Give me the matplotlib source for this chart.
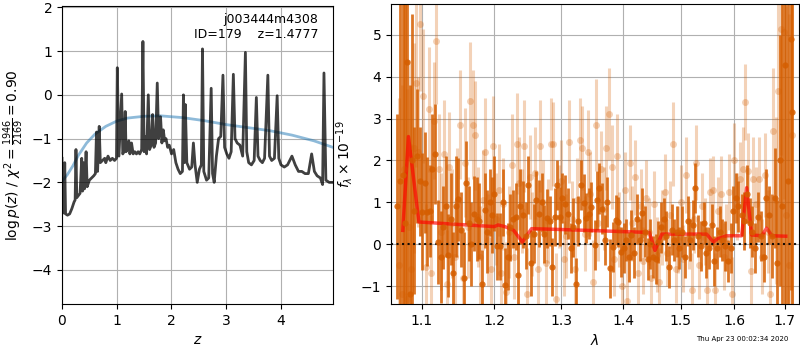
import matplotlib
matplotlib.use("Agg")
import matplotlib.pyplot as plt
from matplotlib.ticker import FixedLocator, FormatStrFormatter, NullLocator

# --- p(z) panel -------------------------------------------------------------
z_grid = [0.000, 0.010, 0.020, 0.035, 0.050, 0.065, 0.100, 0.140, 0.180, 0.220,
          0.240, 0.255, 0.270, 0.300, 0.330, 0.360, 0.375, 0.390, 0.410, 0.440,
          0.460, 0.500, 0.540, 0.580, 0.610, 0.630, 0.650, 0.680, 0.700, 0.740,
          0.780, 0.800, 0.840, 0.880, 0.920, 0.960, 0.995, 1.010, 1.040, 1.090,
          1.110, 1.130, 1.155, 1.170, 1.190, 1.220, 1.240, 1.270, 1.300, 1.330,
          1.360, 1.390, 1.420, 1.455, 1.478, 1.500, 1.520, 1.545, 1.576, 1.600,
          1.630, 1.655, 1.680, 1.710, 1.740, 1.765, 1.800, 1.825, 1.850, 1.875,
          1.900, 1.930, 1.960, 2.000, 2.040, 2.080, 2.120, 2.160, 2.200, 2.218,
          2.235, 2.252, 2.280, 2.330, 2.370, 2.400, 2.430, 2.470, 2.510, 2.545,
          2.566, 2.590, 2.640, 2.680, 2.725, 2.750, 2.780, 2.820, 2.860, 2.900,
          2.940, 2.970, 3.010, 3.050, 3.090, 3.130, 3.160, 3.200, 3.250, 3.300,
          3.350, 3.375, 3.410, 3.460, 3.510, 3.550, 3.580, 3.620, 3.660, 3.700,
          3.760, 3.790, 3.830, 3.880, 3.930, 3.960, 4.000, 4.060, 4.120, 4.200,
          4.260, 4.320, 4.380, 4.440, 4.500, 4.560, 4.610, 4.660, 4.720, 4.760,
          4.785, 4.820, 4.880, 4.950]
logpz = [-1.45, -2.70, -1.60, -2.70, -1.55, -2.72, -2.75, -2.72, -2.60, -2.45,
         -2.40, -1.25, -2.35, -2.30, -2.25, -1.45, -2.20, -1.55, -2.15, -1.30,
         -2.10, -1.95, -1.90, -1.85, -1.80, -0.85, -1.75, -0.72, -1.55, -1.50,
         -1.45, -1.55, -1.40, -1.50, -1.45, -1.50, -1.45, 0.62, -1.40, 0.02,
         -1.35, -1.30, -0.38, -1.30, -1.25, -1.05, -1.35, -1.10, -1.35, -1.30,
         -1.35, -1.30, -1.35, -1.25, 1.22, -1.30, -0.95, -1.35, 0.00, -1.25,
         -1.15, -0.45, -1.20, -1.10, 0.27, -1.00, -0.50, -1.10, -0.80, -1.05,
         -1.00, -1.20, -1.15, -1.35, -1.25, -1.55, -1.70, -1.80, -1.75, 0.00,
         -1.55, -0.22, -1.55, -1.70, -1.65, -1.10, -1.60, -2.00, -1.70, -1.60,
         1.05, -1.75, -1.95, -1.90, 0.15, -1.80, -2.00, -1.40, -1.00, -0.95,
         0.45, -1.20, -1.35, -1.45, -1.30, 0.47, -1.00, -1.10, -1.15, -1.40,
         0.97, -1.30, -1.55, -1.60, -1.50, -0.06, -1.40, -1.50, -1.55, -1.45,
         0.45, -1.40, -1.50, -1.45, -0.02, -1.45, -1.60, -1.65, -1.60, -1.40,
         -1.60, -1.75, -1.75, -1.80, -1.80, -1.35, -1.75, -1.85, -1.90, -2.05,
         0.50, -1.95, -2.00, -2.00]

z_prior = [0.0, 0.1, 0.2, 0.3, 0.45, 0.6, 0.8, 1.0, 1.2, 1.5,
           1.8, 2.2, 2.6, 3.0, 3.4, 3.8, 4.2, 4.6, 4.95]
logp_prior = [-1.98, -1.82, -1.62, -1.38, -1.10, -0.90, -0.72, -0.60, -0.53, -0.49,
              -0.48, -0.52, -0.59, -0.68, -0.75, -0.82, -0.92, -1.05, -1.20]

# --- 1D spectrum panel ------------------------------------------------------
dark_wave = [1.068, 1.072, 1.075, 1.078, 1.081, 1.084, 1.087, 1.090, 1.093, 1.097,
             1.100, 1.104, 1.107, 1.111, 1.114, 1.118, 1.121, 1.125, 1.128, 1.132,
             1.135, 1.139, 1.142, 1.146, 1.149, 1.153, 1.157, 1.160, 1.164, 1.167,
             1.171, 1.175, 1.178, 1.182, 1.186, 1.189, 1.193, 1.197, 1.200, 1.204,
             1.208, 1.212, 1.215, 1.219, 1.223, 1.227, 1.231, 1.235, 1.238, 1.242,
             1.246, 1.250, 1.254, 1.258, 1.262, 1.266, 1.270, 1.274, 1.278, 1.282,
             1.286, 1.290, 1.294, 1.298, 1.302, 1.306, 1.311, 1.315, 1.319, 1.323,
             1.327, 1.331, 1.336, 1.340, 1.344, 1.348, 1.353, 1.357, 1.361, 1.366,
             1.370, 1.374, 1.379, 1.383, 1.388, 1.392, 1.396, 1.401, 1.405, 1.410,
             1.414, 1.419, 1.423, 1.428, 1.432, 1.437, 1.442, 1.446, 1.451, 1.456,
             1.460, 1.465, 1.470, 1.474, 1.479, 1.484, 1.489, 1.493, 1.498, 1.503,
             1.508, 1.513, 1.518, 1.522, 1.527, 1.532, 1.537, 1.542, 1.547, 1.552,
             1.557, 1.562, 1.567, 1.572, 1.577, 1.583, 1.588, 1.593, 1.598, 1.603,
             1.608, 1.614, 1.619, 1.624, 1.630, 1.635, 1.640, 1.646, 1.651, 1.657,
             1.662, 1.668, 1.673, 1.679, 1.684, 1.690, 1.695, 1.701, 1.706, 1.712,
             1.715]
dark_flux = [0.90, 1.50, 1.65, 0.50, 4.35, -1.20, 2.00, 0.80, 2.10, 1.50,
             0.78, 1.47, 0.78, 0.80, 1.80, 2.15, 0.05, -0.30, 0.40, 0.90,
             -0.27, 0.60, -0.70, 0.90, 1.07, 0.35, -0.82, 1.47, 0.50, 0.00,
             0.73, 0.60, 0.55, -0.94, 0.81, 0.30, 1.00, 0.70, 1.21, -0.05,
             -0.05, 1.00, -0.98, -0.30, 0.40, 0.60, 0.65, -0.74, 0.90, 0.70,
             0.20, 1.41, -0.45, 0.25, 1.05, 0.73, 1.00, 0.24, 0.62, 0.55,
             -0.55, 0.65, 1.41, 0.66, 1.10, 0.95, 0.73, -0.10, 0.40, -0.94,
             0.55, 1.41, 0.98, 0.62, 0.73, 0.89, -0.02, 1.05, 1.33, 0.85,
             0.10, 1.00, -0.58, -0.06, 0.57, 0.53, -0.18, -0.10, 0.10, -0.30,
             0.22, -0.20, 0.60, 0.10, 0.75, 0.30, -0.35, 0.00, -0.30, -0.35,
             0.05, 0.40, 0.60, 0.20, -0.55, 0.35, 0.10, 0.30, -0.10, 0.30,
             -0.30, 0.55, 0.10, 0.45, 1.35, 0.20, -0.05, 0.50, -0.20, -0.10,
             0.45, -0.40, -0.10, 0.30, 0.10, -0.05, -0.40, -0.10, 0.80, 1.10,
             0.90, 0.70, 0.55, 1.20, 0.50, 0.30, -0.10, 0.65, 0.20, -0.30,
             1.10, 0.70, 0.20, 1.10, -0.45, 2.00, 0.90, 4.27, 1.50, 4.90,
             3.15]
dark_err = [2.2, 6.0, 6.0, 6.0, 6.0, 5.0, 3.5, 2.0, 1.6, 1.3,
            1.4, 1.2, 1.3, 1.1, 1.3, 1.2, 1.0, 1.1, 1.0, 1.2,
            1.0, 1.1, 1.0, 1.2, 1.0, 0.9, 1.1, 1.0, 0.9, 1.0,
            0.9, 1.0, 0.9, 0.8, 0.9, 1.0, 0.8, 0.9, 0.9, 0.8,
            0.8, 0.8, 0.9, 0.8, 0.8, 0.7, 0.8, 0.8, 0.9, 0.8,
            0.8, 0.7, 0.8, 0.7, 0.7, 0.8, 0.7, 0.7, 0.7, 0.6,
            0.7, 0.7, 0.6, 0.7, 0.6, 0.7, 0.6, 0.6, 0.7, 0.6,
            0.6, 0.6, 0.7, 0.6, 0.6, 0.6, 0.6, 0.7, 0.6, 0.6,
            0.6, 0.6, 0.7, 0.6, 0.6, 0.6, 0.6, 0.6, 0.5, 0.6,
            0.6, 0.6, 0.6, 0.5, 0.6, 0.6, 0.5, 0.6, 0.5, 0.6,
            0.5, 0.6, 0.5, 0.6, 0.5, 0.6, 0.5, 0.6, 0.5, 0.6,
            0.5, 0.6, 0.5, 0.6, 0.6, 0.5, 0.6, 0.5, 0.6, 0.5,
            0.5, 0.6, 0.5, 0.6, 0.5, 0.6, 0.5, 0.6, 0.6, 0.6,
            0.6, 0.5, 0.7, 0.7, 0.6, 0.6, 0.6, 0.6, 0.6, 0.6,
            0.7, 0.7, 1.0, 1.2, 1.5, 3.0, 5.0, 6.0, 6.0, 6.0,
            6.0]

light_wave = [1.070, 1.074, 1.077, 1.080, 1.083, 1.086, 1.089, 1.092, 1.095, 1.098,
              1.102, 1.105, 1.109, 1.112, 1.116, 1.119, 1.123, 1.126, 1.130, 1.133,
              1.137, 1.140, 1.144, 1.147, 1.151, 1.155, 1.158, 1.162, 1.165, 1.169,
              1.173, 1.176, 1.180, 1.184, 1.187, 1.191, 1.195, 1.198, 1.202, 1.206,
              1.210, 1.213, 1.217, 1.221, 1.225, 1.229, 1.233, 1.236, 1.240, 1.244,
              1.248, 1.252, 1.256, 1.260, 1.264, 1.268, 1.272, 1.276, 1.280, 1.284,
              1.288, 1.292, 1.296, 1.300, 1.304, 1.308, 1.313, 1.317, 1.321, 1.325,
              1.329, 1.333, 1.338, 1.342, 1.346, 1.350, 1.355, 1.359, 1.363, 1.368,
              1.372, 1.376, 1.381, 1.385, 1.390, 1.394, 1.398, 1.403, 1.407, 1.412,
              1.416, 1.421, 1.425, 1.430, 1.434, 1.439, 1.444, 1.448, 1.453, 1.458,
              1.462, 1.467, 1.472, 1.476, 1.481, 1.486, 1.491, 1.495, 1.500, 1.505,
              1.510, 1.515, 1.520, 1.525, 1.529, 1.534, 1.539, 1.544, 1.549, 1.554,
              1.559, 1.564, 1.569, 1.574, 1.580, 1.585, 1.590, 1.595, 1.600, 1.605,
              1.611, 1.616, 1.621, 1.627, 1.632, 1.637, 1.643, 1.648, 1.654, 1.659,
              1.665, 1.670, 1.676, 1.681, 1.687, 1.692, 1.698, 1.703, 1.709, 1.715]
light_flux = [-0.50, -1.20, 1.80, -1.30, 0.40, -0.60, 2.30, 3.85, 2.20, 5.25,
              3.55, -0.55, 3.22, -0.70, 2.95, 4.85, 1.80, 0.30, 2.15, -0.95,
              1.85, 0.50, -0.30, 1.00, 2.85, -0.80, 1.95, 0.40, 3.42, 2.85,
              2.60, 0.65, -0.30, 1.05, 2.20, 0.10, -0.60, 2.35, 0.60, 1.30,
              -0.70, 0.95, -1.15, 0.30, 1.90, -0.30, 2.40, 1.45, 0.80, 2.35,
              -1.20, 1.60, 0.25, 1.70, -0.60, 2.35, 1.00, -0.45, 0.55, 2.40,
              2.40, -1.30, 0.90, 1.50, -0.35, 0.20, 2.45, 0.60, -0.60, 1.05,
              2.50, 2.30, 0.25, 2.20, 1.20, -0.90, 2.85, 0.50, 1.80, 0.85,
              2.30, 3.12, 1.85, -0.35, 2.10, 0.35, -1.00, 1.30, -1.35, 1.95,
              0.50, 1.60, -0.70, 0.90, -0.40, 1.10, 0.30, -0.80, 0.95, -0.25,
              -0.90, 0.40, 1.25, -0.20, 0.70, 2.40, -0.60, 0.10, 1.00, -0.35,
              1.65, 0.20, -1.10, 0.60, 1.95, -0.50, 0.90, 0.30, -1.10, 1.25,
              1.30, -1.10, 0.80, 1.20, -0.30, 0.15, 1.25, -1.20, 2.00, 0.90,
              1.55, 1.80, 3.40, 1.75, -0.65, 1.55, 0.95, 1.55, -0.30, 1.65,
              0.30, -1.20, 2.70, 1.05, 3.65, 5.13, 5.07, 0.70, -0.50, 2.60]
light_err = [4.0, 5.0, 5.0, 5.0, 4.0, 3.0, 2.5, 2.0, 1.8, 1.6,
             1.6, 1.5, 1.5, 1.4, 1.4, 1.5, 1.3, 1.4, 1.3, 1.3,
             1.3, 1.3, 1.2, 1.3, 1.3, 1.2, 1.3, 1.2, 1.4, 1.3,
             1.3, 1.2, 1.2, 1.2, 1.3, 1.1, 1.2, 1.2, 1.1, 1.1,
             1.1, 1.1, 1.2, 1.1, 1.2, 1.0, 1.2, 1.1, 1.0, 1.1,
             1.1, 1.0, 1.0, 1.1, 1.0, 1.1, 1.0, 1.0, 1.0, 1.1,
             1.0, 1.1, 1.0, 1.0, 0.9, 1.0, 1.0, 0.9, 1.0, 1.0,
             1.0, 1.0, 0.9, 1.0, 1.0, 1.0, 1.1, 0.9, 0.9, 1.0,
             1.0, 1.1, 1.0, 0.9, 1.0, 0.9, 1.0, 0.9, 1.0, 0.9,
             0.9, 0.9, 0.8, 0.9, 0.8, 0.9, 0.8, 0.9, 0.8, 0.9,
             0.8, 0.9, 0.9, 0.8, 0.8, 1.0, 0.8, 0.8, 0.9, 0.8,
             0.9, 0.8, 0.9, 0.8, 0.9, 0.8, 0.8, 0.8, 0.9, 0.8,
             0.8, 0.9, 0.8, 0.9, 0.8, 0.8, 0.9, 0.9, 0.9, 0.8,
             0.9, 1.0, 0.9, 0.9, 0.9, 1.0, 0.9, 1.0, 0.9, 1.0,
             1.0, 1.2, 1.5, 2.0, 2.5, 3.0, 4.0, 5.0, 6.0, 6.0]

model_wave = [1.0751, 1.0824, 1.0961, 1.150, 1.200, 1.205, 1.215, 1.228, 1.2409, 1.2546,
              1.300, 1.400, 1.445, 1.4547, 1.4667, 1.5478, 1.5602, 1.5681, 1.5854, 1.6141,
              1.6238, 1.6335, 1.6533, 1.6631, 1.6737, 1.7018]
model_flux = [0.33, 2.57, 0.53, 0.47, 0.42, 0.46, 0.42, 0.33, 0.05, 0.37,
              0.35, 0.30, 0.28, -0.15, 0.24, 0.24, 0.05, 0.13, 0.20, 0.20,
              1.35, 0.22, 0.20, 0.38, 0.20, 0.19]

wave_ticks = [1.1, 1.2, 1.3, 1.4, 1.5, 1.6, 1.7]
g141_color = (0.8353, 0.3686, 0.0)

fig = plt.figure(figsize=(8, 3.5), dpi=100)

# p(z)
ax = fig.add_axes([0.0775, 0.1314, 0.33875, 0.8514])
ax.plot(z_prior, logp_prior, color='tab:blue', alpha=0.5, lw=2)
ax.plot(z_grid, logpz, color='k', alpha=0.75, lw=2)
ax.set_xlim(0, 4.95)
ax.set_ylim(-4.78, 2.03)
ax.set_xlabel(r'$z$', fontsize=10)
ax.set_ylabel(r'$\log p(z)$ / $\chi^2=\frac{1946}{2169}=0.90$', fontsize=10)
ax.grid()
ax.text(0.945, 0.975, 'j003444m4308\nID=179    z=1.4777', transform=ax.transAxes,
        ha='right', va='top', fontsize=9)

# spectrum
ax2 = fig.add_axes([0.48875, 0.1314, 0.51, 0.8586])
ax2.errorbar(light_wave, light_flux, yerr=light_err, fmt='o', color=g141_color,
             alpha=0.28, ms=5, mew=0, elinewidth=2.2)
ax2.errorbar(dark_wave, dark_flux, yerr=dark_err, fmt='o', color=g141_color,
             alpha=0.85, ms=4.5, mew=0, elinewidth=2.0)
ax2.plot(model_wave, model_flux, color='r', alpha=0.65, lw=2.5)
ax2.axhline(0, color='k', linestyle=':', lw=1.5, alpha=0.9)

ax2.set_xscale('log')
ax2.set_xlim(1.06, 1.729)
ax2.set_ylim(-1.43, 5.75)
ax2.xaxis.set_major_locator(FixedLocator(wave_ticks))
ax2.xaxis.set_major_formatter(FormatStrFormatter('%.1f'))
ax2.xaxis.set_minor_locator(NullLocator())
ax2.set_xlabel(r'$\lambda$', fontsize=10)
ax2.set_ylabel(r'$f_\lambda\times10^{-19}$', fontsize=10)
ax2.grid()

fig.text(0.985, 0.031, 'Thu Apr 23 00:02:34 2020', ha='right', va='center', fontsize=5)

fig.savefig('out.png', dpi=100)
